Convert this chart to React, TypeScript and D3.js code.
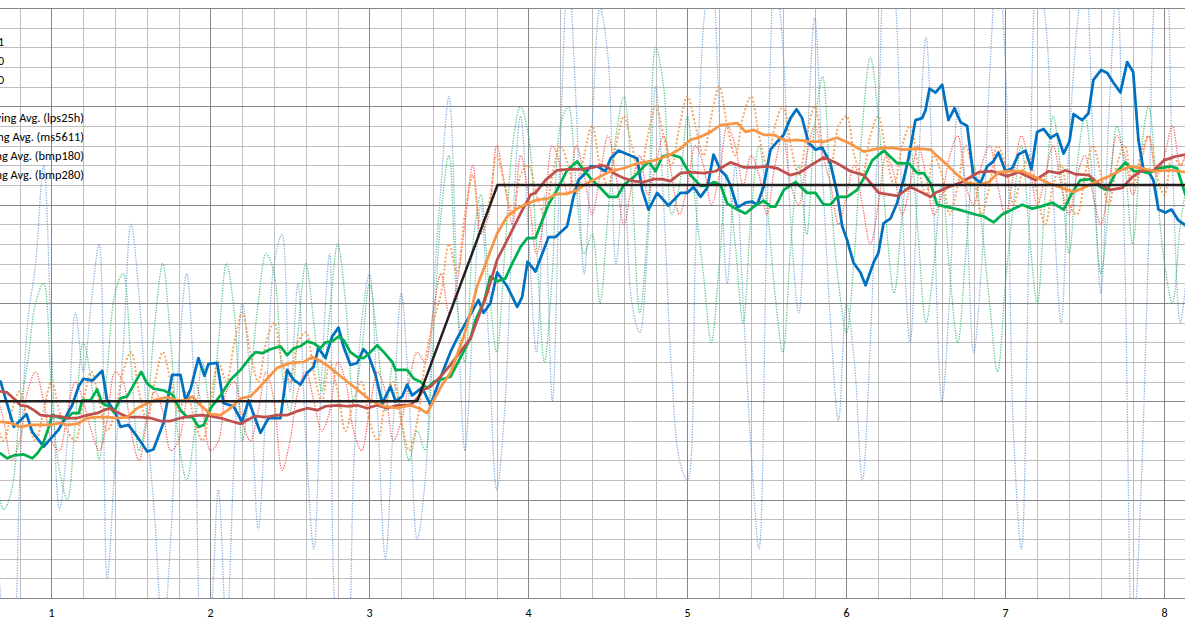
import React from 'react';
import * as d3 from 'd3';

// ---- axes ----
const xDomain: [number, number] = [0.6761, 8.129];
const yDomain: [number, number] = [0, 6];
const xTickLabels = [1, 2, 3, 4, 5, 6, 7, 8];

// ---- raw samples (every 0.05 from 0.65) ----
const rawStart = 0.65;
const rawStep = 0.05;
const lps25hRaw = [
  1.5, -0.3, -0.5, 1.2, 2.8, 3.4, 4.4, 2.6, 0.9, 1.6,
  2.9, 2.3, 3.0, 3.6, 0.2, 1.4, 2.5, 3.8, 3.1, 1.8,
  0.8, -0.4, 0.6, 2.4, 3.3, 2.0, -0.6, -0.2, 1.1, -0.3,
  1.5, 3.0, 2.2, 0.7, 2.0, 3.4, 3.7, 2.1, 3.2, 1.6,
  0.5, 2.3, 3.5, -0.4, -0.6, 1.3, 2.8, 3.3, 1.9, 0.4,
  1.8, 3.1, 2.0, 0.6, 1.2, 3.0, 4.2, 5.1, 3.2, 1.5,
  2.8, 4.0, 2.6, 1.1, 1.9, 3.8, 4.9, 3.7, 2.5, 4.1,
  2.0, 4.6, 6.4, 5.0, 3.3, 4.8, 6.0, 5.5, 3.4, 4.2,
  3.0, 2.7, 3.6, 5.2, 4.0, 2.3, 1.4, 1.2, 3.5, 5.8,
  6.5, 4.9, 3.2, 4.4, 3.0, 1.5, 0.5, 3.9, 6.4, 5.6,
  3.8, 2.9, 4.5, 5.9, 4.3, 2.8, 1.8, 3.0, 2.4, 1.2,
  2.6, 4.8, 6.6, 6.2, 4.0, 2.6, 4.3, 5.7, 3.9, 2.0,
  3.1, 5.0, 4.1, 2.5, 3.4, 5.3, 6.5, 5.4, 1.7, 0.5,
  3.8, 6.3, 5.9, 4.1, 2.8, 4.6, 5.8, 6.4, 4.7, 3.1,
  4.9, 6.2, 3.5, -0.5, 1.0, 3.6, 6.3, 6.6, 4.4, 2.8,
  3.5,
];
const ms5611Raw = [
  1.2, 0.9, 1.1, 1.9, 2.4, 3.0, 3.2, 2.1, 1.3, 1.0,
  1.8, 2.6, 2.2, 1.4, 2.3, 3.1, 3.3, 2.4, 1.5, 1.9,
  2.8, 3.4, 2.6, 1.6, 1.2, 1.7, 2.4, 1.9, 2.6, 3.4,
  2.9, 1.6, 2.2, 3.0, 3.5, 3.3, 2.3, 1.9, 2.7, 3.4,
  2.8, 2.1, 2.9, 3.6, 3.0, 2.0, 2.5, 3.2, 2.6, 1.9,
  2.4, 1.8, 1.4, 1.7, 1.5, 2.6, 3.9, 4.5, 3.0, 2.4,
  3.6, 4.1, 3.2, 2.5, 3.5, 4.6, 5.0, 4.7, 3.6, 2.4,
  3.3, 4.8, 5.0, 4.2, 3.5, 3.7, 3.0, 3.9, 4.7, 5.1,
  4.2, 2.9, 3.8, 5.6, 5.2, 3.9, 4.2, 4.9, 4.0, 3.3,
  2.6, 3.4, 4.3, 3.6, 2.8, 3.9, 4.6, 4.0, 3.1, 2.5,
  3.6, 4.4, 3.7, 4.8, 5.3, 4.1, 3.2, 2.7, 3.5, 4.8,
  5.5, 4.9, 3.8, 3.1, 3.9, 4.6, 3.7, 2.8, 3.4, 4.2,
  3.3, 2.6, 3.5, 4.4, 3.8, 3.0, 2.3, 3.2, 4.0, 4.6,
  3.7, 3.0, 4.1, 4.9, 4.3, 3.5, 4.4, 4.9, 4.2, 3.3,
  4.0, 4.8, 4.4, 3.6, 4.5, 5.0, 4.2, 3.4, 3.0, 3.8,
  4.3,
];
const bmp180Raw = [
  2.1, 1.8, 1.4, 1.6, 2.1, 2.3, 2.0, 1.6, 1.5, 1.9,
  2.2, 2.0, 1.7, 1.5, 1.8, 2.3, 2.2, 1.7, 1.4, 1.8,
  2.1, 1.9, 1.5, 1.6, 2.0, 2.2, 1.9, 1.5, 1.6, 2.1,
  2.2, 1.8, 1.6, 1.9, 2.3, 2.0, 1.3, 1.6, 2.1, 2.3,
  2.0, 1.7, 1.9, 2.4, 2.2, 1.7, 1.5, 1.9, 2.3, 2.1,
  1.6, 1.8, 2.2, 2.5, 2.4, 2.9, 3.3, 2.9, 3.2, 3.8,
  4.4, 3.7, 3.9, 4.6, 4.2, 3.8, 4.5, 4.1, 3.5, 3.9,
  4.6, 4.4, 4.1, 4.6, 4.3, 3.9, 4.3, 4.7, 4.3, 3.8,
  4.2, 4.5, 4.1, 4.4, 4.7, 4.3, 3.9, 4.2, 4.6, 4.4,
  4.0, 4.3, 4.8, 4.6, 4.2, 4.5, 4.3, 3.9, 4.4, 4.7,
  4.2, 4.0, 4.5, 4.8, 4.5, 4.2, 3.8, 4.1, 4.4, 4.0,
  3.6, 4.0, 4.5, 4.3, 3.9, 4.2, 4.6, 4.3, 3.9, 4.1,
  4.5, 4.7, 4.2, 4.0, 4.4, 4.6, 4.2, 3.9, 4.3, 4.7,
  4.4, 4.0, 4.3, 4.6, 4.2, 3.9, 4.3, 4.5, 4.1, 3.8,
  4.2, 4.7, 4.5, 4.1, 4.4, 4.7, 4.3, 4.5, 4.8, 4.4,
  4.6,
];
const bmp280Raw = [
  1.8, 1.6, 1.9, 2.1, 1.8, 1.6, 1.9, 2.2, 1.9, 1.7,
  1.6, 2.0, 2.3, 2.0, 1.7, 1.9, 2.3, 2.5, 2.1, 1.8,
  2.2, 2.5, 2.2, 1.9, 2.1, 1.8, 1.6, 2.0, 2.4, 2.2,
  2.6, 2.9, 2.5, 2.2, 2.6, 2.8, 2.4, 2.2, 2.6, 2.7,
  2.3, 2.0, 2.4, 2.1, 1.7, 2.0, 2.2, 1.8, 1.6, 2.0,
  2.2, 1.8, 1.5, 1.8, 2.4, 2.8, 3.1, 3.6, 3.3, 3.9,
  4.3, 3.8, 4.0, 4.5, 4.2, 3.9, 4.3, 4.4, 4.1, 3.9,
  4.3, 4.6, 4.4, 4.1, 4.5, 4.8, 4.4, 4.2, 4.6, 4.9,
  4.6, 4.3, 4.7, 5.0, 4.7, 4.4, 4.8, 5.1, 4.8, 4.5,
  4.9, 5.2, 4.8, 4.5, 4.9, 5.1, 4.7, 4.4, 4.8, 5.0,
  4.6, 4.3, 4.7, 5.0, 4.6, 4.4, 4.8, 4.9, 4.5, 4.3,
  4.7, 4.9, 4.5, 4.2, 4.6, 4.8, 4.4, 4.1, 4.5, 4.3,
  3.9, 4.2, 4.6, 4.3, 3.9, 4.2, 4.6, 4.4, 4.0, 4.3,
  4.5, 4.1, 3.8, 4.2, 4.4, 4.0, 3.9, 4.3, 4.6, 4.3,
  4.0, 4.4, 4.6, 4.2, 4.5, 4.7, 4.3, 4.1, 4.5, 4.4,
  4.6,
];

// ---- moving averages [time, value] ----
const lps25hAvg: [number, number][] = [
  [0.68,2.20],[0.763,1.74],[0.843,1.87],[0.879,1.69],[0.951,1.54],[1.044,1.71],[1.130,1.96],[1.170,2.15],[1.201,2.23],[1.256,2.21],
  [1.319,2.31],[1.350,2.01],[1.402,1.88],[1.434,1.74],[1.484,1.76],[1.539,1.64],[1.602,1.49],[1.641,1.51],[1.704,1.78],[1.759,2.27],
  [1.811,2.27],[1.843,2.01],[1.874,2.12],[1.924,2.44],[1.962,2.26],[1.987,2.38],[2.042,2.39],[2.082,1.98],[2.145,1.95],[2.199,1.79],
  [2.239,2.01],[2.314,1.68],[2.365,1.83],[2.440,1.83],[2.482,2.32],[2.522,2.22],[2.566,2.17],[2.608,2.29],[2.648,2.35],[2.679,2.54],
  [2.723,2.44],[2.765,2.66],[2.805,2.75],[2.836,2.56],[2.880,2.37],[2.923,2.39],[2.962,2.53],[2.994,2.47],[3.038,2.27],[3.080,1.98],
  [3.132,2.15],[3.164,2.00],[3.206,2.05],[3.237,2.17],[3.268,2.06],[3.331,2.14],[3.384,1.96],[3.446,2.24],[3.509,2.50],[3.551,2.64],
  [3.685,3.03],[3.717,2.90],[3.761,3.00],[3.803,3.31],[3.866,3.17],[3.929,2.96],[3.960,3.06],[3.994,3.42],[4.044,3.32],[4.126,3.67],
  [4.170,3.67],[4.243,3.78],[4.283,4.08],[4.314,4.25],[4.358,4.32],[4.390,4.39],[4.432,4.39],[4.484,4.34],[4.516,4.47],[4.566,4.55],
  [4.684,4.47],[4.715,4.15],[4.755,3.95],[4.809,4.12],[4.880,3.99],[4.956,4.12],[4.998,4.12],[5.038,4.18],[5.082,4.08],[5.124,4.17],
  [5.164,4.51],[5.208,4.35],[5.239,4.30],[5.270,4.20],[5.313,3.97],[5.365,4.02],[5.407,4.03],[5.438,4.00],[5.478,4.18],[5.522,4.56],
  [5.564,4.64],[5.604,4.71],[5.648,4.88],[5.686,4.97],[5.721,4.88],[5.761,4.63],[5.805,4.56],[5.847,4.58],[5.899,4.42],[5.941,4.12],
  [5.973,3.78],[6.004,3.64],[6.044,3.41],[6.088,3.31],[6.120,3.18],[6.170,3.41],[6.201,3.51],[6.233,3.81],[6.277,3.86],[6.319,4.02],
  [6.358,4.25],[6.390,4.47],[6.434,4.86],[6.476,4.88],[6.497,4.96],[6.522,5.18],[6.560,5.14],[6.602,5.22],[6.641,4.86],[6.679,4.98],
  [6.717,4.84],[6.759,4.80],[6.799,4.28],[6.843,4.22],[6.885,4.39],[6.924,4.44],[6.956,4.53],[7.000,4.34],[7.042,4.37],[7.081,4.51],
  [7.126,4.55],[7.163,4.36],[7.199,4.74],[7.239,4.77],[7.283,4.68],[7.325,4.72],[7.365,4.52],[7.402,4.64],[7.428,4.92],[7.482,4.86],
  [7.522,4.93],[7.553,5.27],[7.602,5.37],[7.640,5.34],[7.679,5.24],[7.723,5.14],[7.765,5.45],[7.803,5.35],[7.836,4.66],[7.868,4.35],
  [7.899,4.34],[7.930,4.25],[7.962,3.95],[8.006,3.92],[8.044,3.95],[8.088,3.84],[8.132,3.79],
];
const ms5611Avg: [number, number][] = [
  [0.679,1.47],[0.721,1.42],[0.763,1.45],[0.826,1.46],[0.879,1.42],[0.910,1.47],[0.941,1.54],[0.983,1.74],[1.004,1.86],[1.057,1.83],
  [1.099,1.83],[1.130,1.88],[1.172,1.88],[1.193,2.01],[1.245,2.01],[1.287,2.12],[1.319,1.98],[1.360,1.95],[1.392,1.89],[1.434,2.03],
  [1.476,2.05],[1.518,2.17],[1.564,2.30],[1.602,2.18],[1.643,2.13],[1.706,2.11],[1.759,2.07],[1.811,1.91],[1.853,1.84],[1.885,1.84],
  [1.926,1.74],[1.958,1.76],[2.000,1.93],[2.063,2.06],[2.126,2.22],[2.189,2.32],[2.252,2.45],[2.283,2.50],[2.325,2.49],[2.377,2.53],
  [2.440,2.56],[2.482,2.47],[2.524,2.54],[2.566,2.56],[2.608,2.61],[2.650,2.59],[2.692,2.54],[2.723,2.60],[2.765,2.61],[2.807,2.66],
  [2.838,2.62],[2.880,2.50],[2.923,2.45],[2.964,2.44],[3.006,2.50],[3.048,2.57],[3.090,2.50],[3.143,2.40],[3.164,2.32],[3.237,2.32],
  [3.279,2.23],[3.321,2.20],[3.363,2.13],[3.404,2.20],[3.467,2.23],[3.509,2.25],[3.635,2.64],[3.667,2.83],[3.719,3.01],[3.761,3.27],
  [3.803,3.22],[3.855,3.25],[3.897,3.40],[3.950,3.57],[3.992,3.66],[4.044,3.66],[4.086,3.84],[4.128,4.01],[4.180,4.15],[4.243,4.35],
  [4.306,4.44],[4.348,4.35],[4.390,4.27],[4.453,4.17],[4.505,4.08],[4.558,4.08],[4.599,4.20],[4.662,4.28],[4.715,4.37],[4.757,4.44],
  [4.799,4.34],[4.841,4.49],[4.893,4.51],[4.956,4.48],[5.019,4.30],[5.082,4.19],[5.124,4.19],[5.166,4.23],[5.208,4.20],[5.250,4.01],
  [5.313,3.95],[5.365,3.91],[5.417,3.98],[5.480,4.04],[5.522,3.98],[5.553,3.98],[5.606,4.15],[5.679,4.23],[5.753,4.12],[5.805,4.12],
  [5.857,4.00],[5.899,4.00],[5.941,4.08],[6.004,4.08],[6.067,4.15],[6.109,4.27],[6.162,4.45],[6.235,4.55],[6.319,4.42],[6.392,4.42],
  [6.445,4.32],[6.486,4.32],[6.528,4.22],[6.570,4.00],[6.623,3.98],[6.706,3.95],[6.769,3.92],[6.811,3.90],[6.864,3.88],[6.926,3.82],
  [6.979,3.90],[7.042,3.95],[7.105,4.00],[7.168,3.96],[7.220,3.98],[7.294,4.02],[7.366,3.95],[7.419,4.12],[7.471,4.25],[7.534,4.26],
  [7.597,4.18],[7.639,4.15],[7.692,4.32],[7.755,4.43],[7.807,4.34],[7.849,4.34],[7.901,4.32],[7.964,4.37],[8.037,4.39],[8.079,4.37],
  [8.132,4.10],
];
const bmp180Avg: [number, number][] = [
  [0.679,2.10],[0.721,2.09],[0.774,2.01],[0.805,1.96],[0.847,1.95],[0.889,1.91],[0.931,1.86],[0.994,1.85],[1.046,1.85],[1.099,1.83],
  [1.162,1.83],[1.225,1.86],[1.287,1.88],[1.329,1.91],[1.371,1.93],[1.413,1.89],[1.476,1.84],[1.560,1.84],[1.623,1.83],[1.685,1.80],
  [1.748,1.80],[1.811,1.83],[1.874,1.85],[1.937,1.86],[2.000,1.85],[2.063,1.83],[2.126,1.80],[2.189,1.77],[2.231,1.81],[2.283,1.85],
  [2.346,1.84],[2.419,1.86],[2.482,1.86],[2.545,1.90],[2.608,1.93],[2.671,1.91],[2.723,1.95],[2.797,1.96],[2.860,1.95],[2.923,1.96],
  [2.985,1.93],[3.048,1.96],[3.111,1.93],[3.174,1.96],[3.258,1.96],[3.300,2.03],[3.341,2.12],[3.384,2.15],[3.446,2.25],[3.509,2.37],
  [3.635,2.64],[3.740,3.10],[3.803,3.44],[3.866,3.64],[3.950,3.91],[4.013,4.10],[4.044,4.12],[4.107,4.25],[4.180,4.35],[4.243,4.36],
  [4.327,4.36],[4.411,4.38],[4.453,4.40],[4.495,4.39],[4.536,4.32],[4.599,4.27],[4.662,4.24],[4.725,4.23],[4.788,4.26],[4.841,4.26],
  [4.893,4.24],[4.956,4.32],[5.019,4.33],[5.103,4.32],[5.176,4.34],[5.270,4.43],[5.354,4.38],[5.438,4.38],[5.501,4.39],[5.564,4.37],
  [5.648,4.30],[5.711,4.33],[5.774,4.40],[5.857,4.48],[5.941,4.42],[6.025,4.34],[6.109,4.30],[6.162,4.20],[6.203,4.12],[6.319,4.09],
  [6.402,4.18],[6.465,4.13],[6.528,4.08],[6.560,4.12],[6.643,4.18],[6.727,4.23],[6.832,4.33],[6.916,4.34],[7.010,4.29],[7.084,4.33],
  [7.188,4.25],[7.272,4.34],[7.335,4.32],[7.377,4.35],[7.440,4.31],[7.524,4.30],[7.587,4.21],[7.660,4.15],[7.734,4.17],[7.797,4.28],
  [7.860,4.35],[7.933,4.35],[7.996,4.45],[8.069,4.49],[8.132,4.51],
];
const bmp280Avg: [number, number][] = [
  [0.679,1.79],[0.742,1.78],[0.805,1.74],[0.868,1.76],[0.931,1.76],[0.994,1.76],[1.057,1.78],[1.099,1.76],[1.162,1.77],[1.225,1.83],
  [1.287,1.84],[1.350,1.84],[1.413,1.83],[1.476,1.84],[1.539,1.93],[1.602,1.98],[1.665,2.02],[1.728,2.04],[1.790,2.01],[1.853,2.01],
  [1.885,2.05],[1.937,1.96],[2.000,1.87],[2.063,1.86],[2.126,1.93],[2.189,2.03],[2.252,2.05],[2.294,2.12],[2.357,2.23],[2.419,2.34],
  [2.503,2.39],[2.587,2.40],[2.640,2.45],[2.692,2.41],[2.755,2.34],[2.838,2.23],[2.923,2.12],[3.006,2.01],[3.090,1.95],[3.174,1.93],
  [3.258,1.96],[3.310,1.93],[3.363,1.88],[3.404,2.01],[3.457,2.17],[3.509,2.29],[3.593,2.66],[3.635,2.90],[3.677,3.17],[3.740,3.44],
  [3.803,3.71],[3.866,3.88],[3.929,3.96],[3.992,4.01],[4.055,4.05],[4.118,4.06],[4.180,4.11],[4.243,4.11],[4.306,4.15],[4.369,4.22],
  [4.432,4.27],[4.516,4.34],[4.599,4.37],[4.684,4.42],[4.767,4.44],[4.830,4.47],[4.893,4.51],[4.956,4.57],[5.019,4.66],[5.082,4.69],
  [5.145,4.74],[5.208,4.81],[5.313,4.83],[5.365,4.74],[5.417,4.76],[5.480,4.71],[5.543,4.71],[5.616,4.65],[5.690,4.66],[5.774,4.64],
  [5.857,4.64],[5.941,4.68],[6.025,4.62],[6.109,4.54],[6.193,4.57],[6.277,4.58],[6.360,4.56],[6.445,4.57],[6.528,4.56],[6.560,4.51],
  [6.623,4.42],[6.686,4.32],[6.748,4.23],[6.832,4.20],[6.895,4.23],[6.958,4.33],[7.021,4.34],[7.105,4.34],[7.188,4.28],[7.272,4.22],
  [7.356,4.17],[7.429,4.13],[7.503,4.18],[7.566,4.23],[7.640,4.28],[7.713,4.34],[7.786,4.39],[7.860,4.37],[7.943,4.34],[8.048,4.35],
  [8.132,4.33],
];

// ---- reference profile ----
const referenceTimes = [0.6, 3.3, 3.805, 8.2];
const referenceValues = [2.0, 2.0, 4.2, 4.2];

// ---- legend ----
const rawLegend = ['lps25h', 'ms5611', 'bmp180', 'bmp280'];
const avgLegend = ['Moving Avg. (lps25h)', 'Moving Avg. (ms5611)', 'Moving Avg. (bmp180)', 'Moving Avg. (bmp280)'];

const FONT = 'Carlito, Calibri, Lato, "Liberation Sans", sans-serif';

export default function App() {
  const W = 1185, H = 622;
  const top = 8, bottom = 598;
  const x = d3.scaleLinear().domain(xDomain).range([0, W]);
  const y = d3.scaleLinear().domain(yDomain).range([bottom, top]);

  const gridX = d3.range(4, 42).map((i) => i / 5);
  const gridY = d3.range(0, 31).map((i) => i / 5);

  const rawLine = d3
    .line<number>()
    .x((_, i) => x(rawStart + i * rawStep))
    .y((d) => y(d))
    .curve(d3.curveCatmullRom.alpha(0.5));
  const avgLine = d3
    .line<[number, number]>()
    .x((d) => x(d[0]))
    .y((d) => y(d[1]));
  const refLine = d3
    .line<number>()
    .x((d) => x(d))
    .y((_, i) => y(referenceValues[i]));

  const raws = [
    { data: lps25hRaw, color: '#5E93D6', w: 1.25, dash: '1.3 1.3', op: 0.75 },
    { data: ms5611Raw, color: '#1DB35F', w: 1.25, dash: '1.3 1.3', op: 0.75 },
    { data: bmp180Raw, color: '#FF2A2A', w: 1.25, dash: '1.3 1.3', op: 0.75 },
    { data: bmp280Raw, color: '#F79646', w: 2, dash: '2 2', op: 0.85 },
  ];
  const avgs = [
    { data: lps25hAvg, color: '#0070C0' },
    { data: ms5611Avg, color: '#00B050' },
    { data: bmp180Avg, color: '#C0504D' },
    { data: bmp280Avg, color: '#F79646' },
  ];

  const crisp = (v: number) => Math.round(v) + 0.5;
  const isMajor = (v: number) => Math.abs(v - Math.round(v)) < 1e-6;

  return (
    <svg
      width={W}
      height={H}
      style={{ position: 'fixed', left: 0, top: 0, background: '#fff' }}
      fontFamily={FONT}
    >
      <defs>
        <clipPath id="plotClip">
          <rect x={0} y={top} width={W} height={bottom - top} />
        </clipPath>
      </defs>
      <rect x={0} y={0} width={W} height={H} fill="#fff" />

      {/* gridlines */}
      <g shapeRendering="crispEdges">
        {gridX.filter((v) => !isMajor(v)).map((v) => (
          <line key={'vx' + v} x1={crisp(x(v))} x2={crisp(x(v))} y1={top} y2={bottom} stroke="#BEBEBE" strokeWidth={1} />
        ))}
        {gridY.filter((v) => !isMajor(v)).map((v) => (
          <line key={'hy' + v} x1={0} x2={W} y1={crisp(y(v))} y2={crisp(y(v))} stroke="#BEBEBE" strokeWidth={1} />
        ))}
        {gridX.filter((v) => isMajor(v)).map((v) => (
          <line key={'Vx' + v} x1={crisp(x(v))} x2={crisp(x(v))} y1={top} y2={bottom} stroke="#868686" strokeWidth={1} />
        ))}
        {gridY.filter((v) => isMajor(v)).map((v) => (
          <line key={'Hy' + v} x1={0} x2={W} y1={crisp(y(v))} y2={crisp(y(v))} stroke="#868686" strokeWidth={1} />
        ))}
      </g>

      {/* legend (its left part lies outside the cropped view) */}
      <g fontSize={12} fill="#000">
        {rawLegend.map((t, i) => (
          <text key={t} x={i === 0 ? -37 : 4} y={23.3 + i * 18.9 + 4} textAnchor={i === 0 ? 'start' : 'end'}>{t}</text>
        ))}
        {avgLegend.map((t, i) => (
          <text key={t} x={84} y={117.8 + i * 18.9 + 4} textAnchor="end" fontSize={12.4}>{t}</text>
        ))}
      </g>

      <g clipPath="url(#plotClip)" fill="none">
        {raws.map((r, i) => (
          <path
            key={'raw' + i}
            d={rawLine(r.data) || ''}
            stroke={r.color}
            strokeWidth={r.w}
            strokeDasharray={r.dash}
            strokeOpacity={r.op}
          />
        ))}
        {avgs.map((a, i) => (
          <path
            key={'avg' + i}
            d={avgLine(a.data) || ''}
            stroke={a.color}
            strokeWidth={2.75}
            strokeLinejoin="round"
            strokeLinecap="round"
          />
        ))}
        <path d={refLine(referenceTimes) || ''} stroke="#231F20" strokeWidth={2.5} />
      </g>

      {/* x tick labels */}
      <g fontSize={12} fill="#000" textAnchor="middle">
        {xTickLabels.map((t) => (
          <text key={t} x={x(t)} y={617}>{t}</text>
        ))}
      </g>
    </svg>
  );
}
